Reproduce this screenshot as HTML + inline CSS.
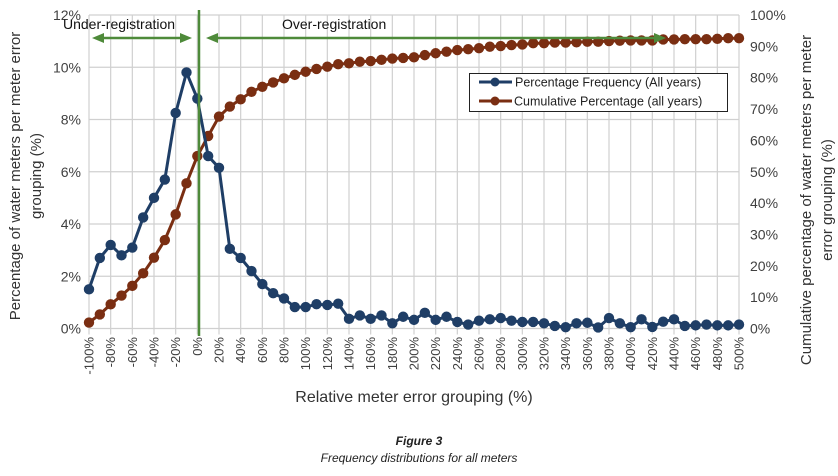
<!DOCTYPE html>
<html><head><meta charset="utf-8"><style>
html,body{margin:0;padding:0;background:#fff;}
svg{display:block;font-family:"Liberation Sans",sans-serif;}
</style></head><body>
<svg id="chart" width="838" height="476" viewBox="0 0 838 476" xmlns="http://www.w3.org/2000/svg">
<g id="grid"></g>
<g id="axes"></g>
<g id="series"></g>
<line x1="199" y1="10" x2="199" y2="336" stroke="#4e8a3a" stroke-width="2.5"/>
<text x="63" y="29" font-size="14" fill="#111">Under-registration</text>
<text x="282" y="29" font-size="14" fill="#111">Over-registration</text>
<g stroke="#4e8a3a" fill="#4e8a3a">
<line x1="100" y1="38" x2="184" y2="38" stroke-width="2.5"/>
<polygon points="92,38 104,33 104,43" stroke="none"/>
<polygon points="192,38 180,33 180,43" stroke="none"/>
</g>
<g stroke="#4e8a3a" fill="#4e8a3a">
<line x1="214" y1="38" x2="658" y2="38" stroke-width="2.5"/>
<polygon points="206,38 218,33 218,43" stroke="none"/>
<polygon points="666,38 654,33 654,43" stroke="none"/>
</g>
<g>
<rect x="469.5" y="73.5" width="258" height="38" fill="#fff" stroke="#222" stroke-width="1"/>
<g>
<line x1="479" y1="82" x2="512" y2="82" stroke="#1f3e66" stroke-width="3"/><circle cx="495" cy="82" r="4.5" fill="#1f3e66"/>
<text x="515" y="86.5" font-size="12.5" fill="#222">Percentage Frequency (All years)</text></g>
<g>
<line x1="479" y1="101" x2="512" y2="101" stroke="#7a2e12" stroke-width="3"/><circle cx="495" cy="101" r="4.5" fill="#7a2e12"/>
<text x="514" y="105.5" font-size="12.5" fill="#222">Cumulative Percentage (all years)</text></g>
</g>
<g font-size="15" fill="#333" text-anchor="middle">
<text transform="translate(20,176) rotate(-90)">Percentage of water meters per meter error</text>
<text transform="translate(41,176) rotate(-90)">grouping (%)</text>
</g>
<g font-size="15" fill="#333" text-anchor="middle">
<text transform="translate(811,200) rotate(-90)">Cumulative percentage of water meters per meter</text>
<text transform="translate(832,200) rotate(-90)">error grouping (%)</text>
</g>
<text x="414" y="402" font-size="16" fill="#333" text-anchor="middle">Relative meter error grouping (%)</text>
<text x="419" y="445" font-size="12" font-weight="bold" font-style="italic" fill="#222" text-anchor="middle">Figure 3</text>
<text x="419" y="462" font-size="12" font-style="italic" fill="#222" text-anchor="middle">Frequency distributions for all meters</text>
</svg>
<script>
const categories = [-100,-90,-80,-70,-60,-50,-40,-30,-20,-10,0,10,20,30,40,50,60,70,80,90,100,110,120,130,140,150,160,170,180,190,200,210,220,230,240,250,260,270,280,290,300,310,320,330,340,350,360,370,380,390,400,410,420,430,440,450,460,470,480,490,500];
const frequency = [1.5,2.7,3.2,2.8,3.1,4.25,5.0,5.7,8.25,9.8,8.8,6.6,6.15,3.05,2.7,2.2,1.7,1.35,1.15,0.82,0.82,0.93,0.9,0.95,0.37,0.5,0.37,0.5,0.2,0.45,0.33,0.6,0.33,0.45,0.25,0.15,0.3,0.35,0.4,0.3,0.25,0.25,0.2,0.1,0.05,0.2,0.22,0.04,0.4,0.2,0.05,0.35,0.06,0.26,0.35,0.1,0.12,0.15,0.12,0.12,0.15];
const cumulative = [1.9,4.5,7.7,10.5,13.6,17.6,22.6,28.2,36.4,46.3,55,61.4,67.6,70.8,73.1,75.5,77.1,78.5,79.8,80.9,81.9,82.8,83.5,84.3,84.6,85.1,85.3,85.7,86.1,86.3,86.5,87.2,87.8,88.3,88.8,89.1,89.4,89.9,90.1,90.4,90.6,91.0,91.0,91.2,91.2,91.3,91.5,91.5,91.7,91.8,91.9,91.9,91.9,92.2,92.2,92.3,92.3,92.3,92.4,92.6,92.6];
const leftTicks = [0,2,4,6,8,10,12];
const rightTicks = [0,10,20,30,40,50,60,70,80,90,100];
const xTickLabels = [-100,-80,-60,-40,-20,0,20,40,60,80,100,120,140,160,180,200,220,240,260,280,300,320,340,360,380,400,420,440,460,480,500];

const NS='http://www.w3.org/2000/svg';
const X0=89,X1=739,YT=15,YB=328.5;
const xScale=v=>X0+(v-categories[0])/(categories[categories.length-1]-categories[0])*(X1-X0);
const yLeft=v=>YB-v/12*(YB-YT);
const yRight=v=>YB-v/100*(YB-YT);
function mk(tag,attrs,parent){const e=document.createElementNS(NS,tag);for(const k in attrs)e.setAttribute(k,attrs[k]);parent.appendChild(e);return e;}
const grid=document.getElementById('grid'),axes=document.getElementById('axes'),series=document.getElementById('series');
leftTicks.forEach(t=>{
  const y=yLeft(t);
  const l=mk('line',{x1:X0,x2:X1,y1:y,y2:y,stroke:'#d0d0d0','stroke-width':1.2},grid);
  
  
  const tx=mk('text',{x:81,y:y+5,'font-size':14,fill:'#404040','text-anchor':'end'},axes);
  tx.textContent=t+'%';
  
  
});
rightTicks.forEach(t=>{
  const y=yRight(t);
  const tx=mk('text',{x:750,y:y+5,'font-size':14,fill:'#404040'},axes);
  tx.textContent=t+'%';
  
  
});
xTickLabels.forEach(t=>{
  const x=xScale(t);
  const l=mk('line',{x1:x,x2:x,y1:YT,y2:YB+6,stroke:'#d0d0d0','stroke-width':1.2},grid);
  
  
  const tx=mk('text',{transform:`translate(${x+4.5},337) rotate(-90)`,'font-size':13,fill:'#404040','text-anchor':'end'},axes);
  tx.textContent=t+'%';
  
  
});
function drawSeries(vals,yf,color,name){
  const g=mk('g',{},series);
  
  
  const pts=vals.map((v,i)=>xScale(categories[i]).toFixed(1)+','+yf(v).toFixed(1)).join(' ');
  const pl=mk('polyline',{points:pts,fill:'none',stroke:color,'stroke-width':3,'stroke-linejoin':'round'},g);
  
  
  vals.forEach((v,i)=>{
    const c=mk('circle',{cx:xScale(categories[i]),cy:yf(v),r:5.2,fill:color},g);
    
    
  });
}
drawSeries(cumulative,yRight,'#7a2e12','cumulative-series');
drawSeries(frequency,yLeft,'#1f3e66','frequency-series');
</script>
</body></html>
